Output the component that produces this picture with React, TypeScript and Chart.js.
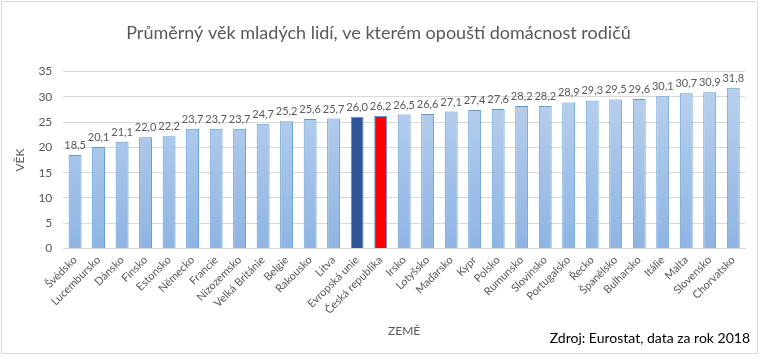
import React, { useEffect, useRef } from "react";
import { Chart, registerables } from "chart.js";

Chart.register(...registerables);

const TITLE = "Průměrný věk mladých lidí, ve kterém opouští domácnost rodičů";
const SOURCE = "Zdroj: Eurostat, data za rok 2018";
const Y_TITLE = "VĚK";
const X_TITLE = "ZEMĚ";

const countries = [
  "Švédsko", "Lucembursko", "Dánsko", "Finsko", "Estonsko", "Německo", "Francie",
  "Nizozemsko", "Velká Británie", "Belgie", "Rakousko", "Litva", "Evropská unie",
  "Česká republika", "Irsko", "Lotyšsko", "Maďarsko", "Kypr", "Polsko", "Rumunsko",
  "Slovinsko", "Portugalsko", "Řecko", "Španělsko", "Bulharsko", "Itálie", "Malta",
  "Slovensko", "Chorvatsko",
];

const ages = [
  18.5, 20.1, 21.1, 22.0, 22.2, 23.7, 23.7, 23.7, 24.7, 25.2, 25.6, 25.7, 26.0,
  26.2, 26.5, 26.6, 27.1, 27.4, 27.6, 28.2, 28.2, 28.9, 29.3, 29.5, 29.6, 30.1,
  30.7, 30.9, 31.8,
];

const FONT = "Lato, 'Liberation Sans', sans-serif";
const GRAY = "#595959";

export default function App() {
  const ref = useRef<HTMLCanvasElement | null>(null);

  useEffect(() => {
    const canvas = ref.current;
    if (!canvas) return;

    const labelPlugin = {
      id: "extras",
      afterDatasetsDraw(chart: any) {
        const ctx = chart.ctx;
        const meta = chart.getDatasetMeta(0);
        ctx.save();
        ctx.font = `11px ${FONT}`;
        ctx.fillStyle = GRAY;
        ctx.textAlign = "center";
        ctx.textBaseline = "bottom";
        meta.data.forEach((bar: any, i: number) => {
          ctx.fillText(ages[i].toFixed(1).replace(".", ","), bar.x, bar.y - 4);
        });
        ctx.restore();
      },
      afterDraw(chart: any) {
        const ctx = chart.ctx;
        ctx.save();
        ctx.strokeStyle = "#d9d9d9";
        ctx.lineWidth = 1;
        ctx.strokeRect(1.5, 1.5, chart.width - 5, chart.height - 5);
        ctx.font = `14px ${FONT}`;
        ctx.fillStyle = "#000000";
        ctx.textAlign = "right";
        ctx.textBaseline = "middle";
        ctx.fillText(SOURCE, chart.width - 11, chart.height - 19);
        ctx.restore();
      },
    };

    const chart = new Chart(canvas, {
      type: "bar",
      data: {
        labels: countries,
        datasets: [
          {
            data: ages,
            backgroundColor: (c: any) => {
              const i = c.dataIndex;
              if (countries[i] === "Evropská unie") return "#2f5597";
              if (countries[i] === "Česká republika") return "#ff0000";
              const area = c.chart.chartArea;
              if (!area) return "#9dbde6";
              const g = c.chart.ctx.createLinearGradient(0, area.top, 0, area.bottom);
              g.addColorStop(0, "#bdd3ee");
              g.addColorStop(1, "#8fb4e3");
              return g;
            },
            borderColor: "#5b9bd5",
            borderWidth: 1,
            barPercentage: 0.55,
            categoryPercentage: 1,
          },
        ],
      },
      options: {
        responsive: false,
        animation: false,
        layout: { padding: { left: 12, right: 16, top: 6, bottom: 19 } },
        plugins: {
          legend: { display: false },
          tooltip: { enabled: false },
          title: {
            display: true,
            text: TITLE,
            color: GRAY,
            font: { family: FONT, size: 18, weight: "normal" },
            padding: { top: 16, bottom: 28 },
          },
        },
        scales: {
          x: {
            grid: { display: false, drawTicks: false },
            border: { display: true, color: "#d9d9d9" },
            ticks: {
              color: GRAY,
              font: { family: FONT, size: 11 },
              minRotation: 45,
              maxRotation: 45,
              autoSkip: false,
              padding: 5,
            },
            title: {
              display: true,
              text: X_TITLE,
              color: GRAY,
              font: { family: FONT, size: 12 },
              padding: { top: 2, bottom: 0 },
            },
          },
          y: {
            min: 0,
            max: 35,
            grid: { color: "#d9d9d9", drawTicks: false },
            border: { display: false },
            ticks: {
              stepSize: 5,
              color: GRAY,
              font: { family: FONT, size: 12 },
              padding: 11,
            },
            title: {
              display: true,
              text: Y_TITLE,
              color: GRAY,
              font: { family: FONT, size: 12 },
              padding: { top: 1, bottom: 0 },
            },
          },
        },
      },
      plugins: [labelPlugin],
    });

    return () => chart.destroy();
  }, []);

  return (
    <div style={{ position: "absolute", left: 0, top: 0, width: 761, height: 357, background: "#fff" }}>
      <canvas ref={ref} width={761} height={357} style={{ display: "block" }} />
    </div>
  );
}
